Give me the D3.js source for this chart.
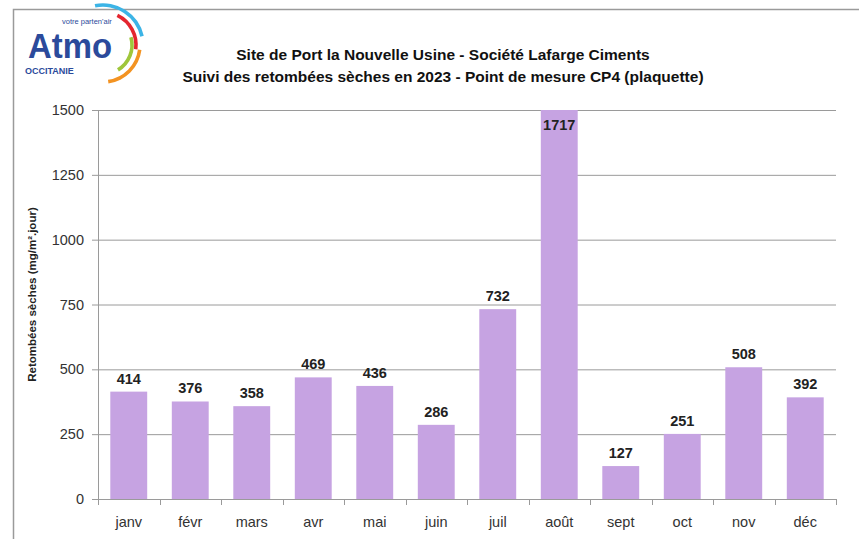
<!DOCTYPE html>
<html>
<head>
<meta charset="utf-8">
<script src="https://cdn.jsdelivr.net/npm/d3@7"></script>
<style>
  body { margin: 0; background: #fff; }
  svg { display: block; font-family: 'Liberation Sans', Arial, sans-serif; }
</style>
</head>
<body>
<svg id="chart" width="859" height="539"></svg>
<script>
// donnees
const months = ['janv', 'févr', 'mars', 'avr', 'mai', 'juin', 'juil', 'août', 'sept', 'oct', 'nov', 'déc'];
const values = [414, 376, 358, 469, 436, 286, 732, 1717, 127, 251, 508, 392];
const yTicks = [0, 250, 500, 750, 1000, 1250, 1500];
const titleLines = [
  'Site de Port la Nouvelle Usine - Société Lafarge Ciments',
  'Suivi des retombées sèches en 2023 - Point de mesure CP4 (plaquette)',
];

const svg = d3.select('#chart');
const margin = { top: 110, right: 23, bottom: 40, left: 98 };
const width = +svg.attr('width') - margin.left - margin.right;
const height = +svg.attr('height') - margin.top - margin.bottom;

// cadre
svg.append('rect')
  .attr('x', 13.5).attr('y', 9.5)
  .attr('width', 900).attr('height', 600)
  .attr('fill', 'none')
  .attr('stroke', '#9a9a9a')
  .attr('stroke-width', 1.5);

// logo
const logo = svg.append('g');
const arcs = [
  { r: 40, a0: -0.2, a1: 1.35, c: '#3cb4e6' },
  { r: 33, a0: 0.45, a1: 1.7, c: '#e4262f' },
  { r: 29, a0: 1.3, a1: 2.6, c: '#9fc63b' },
  { r: 37, a0: 1.7, a1: 3.0, c: '#f39322' },
];
arcs.forEach((d) => {
  logo.append('path')
    .attr('transform', 'translate(103,45)')
    .attr('d', d3.arc().innerRadius(d.r - 1.8).outerRadius(d.r + 1.8).startAngle(d.a0).endAngle(d.a1))
    .attr('fill', d.c);
});
logo.append('text')
  .attr('x', 28).attr('y', 58)
  .attr('font-size', 35).attr('font-weight', 'bold')
  .attr('fill', '#2b4a9b')
  .attr('textLength', 84)
  .attr('lengthAdjust', 'spacingAndGlyphs')
  .text('Atmo');
logo.append('text')
  .attr('x', 62).attr('y', 24)
  .attr('font-size', 7.5)
  .attr('fill', '#2b4a9b')
  .text('votre parten\'air');
logo.append('text')
  .attr('x', 25).attr('y', 74)
  .attr('font-size', 9).attr('font-weight', 'bold')
  .attr('fill', '#2b4a9b')
  .text('OCCITANIE');

// titre
svg.append('g')
  .selectAll('text')
  .data(titleLines)
  .enter().append('text')
  .attr('x', 443)
  .attr('y', (d, i) => 60 + i * 22)
  .attr('text-anchor', 'middle')
  .attr('font-size', 15.5)
  .attr('font-weight', 'bold')
  .attr('fill', '#111')
  .text(d => d);

const g = svg.append('g').attr('transform', `translate(${margin.left},${margin.top})`);

const x = d3.scaleBand()
  .domain(months)
  .range([0, width])
  .paddingInner(0.4)
  .paddingOuter(0.2);

const y = d3.scaleLinear()
  .domain([0, 1500])
  .range([height, 0]);

// grille
g.append('g')
  .selectAll('line')
  .data(yTicks.filter(d => d > 0))
  .enter().append('line')
  .attr('x1', 0).attr('x2', width)
  .attr('y1', d => y(d) + 0.5).attr('y2', d => y(d) + 0.5)
  .attr('stroke', '#9a9a9a');

// axe y
const yAxis = g.append('g')
  .call(d3.axisLeft(y).tickValues(yTicks).tickFormat(d3.format('d')).tickSize(6).tickPadding(8));
yAxis.select('.domain').attr('stroke', '#9a9a9a');
yAxis.selectAll('.tick line').attr('stroke', '#9a9a9a');
yAxis.selectAll('.tick text')
  .attr('font-size', 14.5)
  .attr('font-family', 'Liberation Sans, Arial, sans-serif')
  .attr('fill', '#333');

// barres
g.selectAll('.bar')
  .data(values)
  .enter().append('rect')
  .attr('class', 'bar')
  .attr('x', (d, i) => x(months[i]))
  .attr('width', x.bandwidth())
  .attr('y', d => y(Math.min(d, 1500)))
  .attr('height', d => height - y(Math.min(d, 1500)))
  .attr('fill', '#c6a3e2');

// etiquettes
g.selectAll('.lbl')
  .data(values)
  .enter().append('text')
  .attr('class', 'lbl')
  .attr('x', (d, i) => x(months[i]) + (x.bandwidth() / 2))
  .attr('y', d => (d > 1500 ? y(1500) + 20 : y(d) - 8))
  .attr('text-anchor', 'middle')
  .attr('font-size', 14.5)
  .attr('font-weight', 'bold')
  .attr('fill', '#222')
  .text(d => d);

// axe x
const step = x.step();
const xAxis = g.append('g').attr('transform', `translate(0,${height})`);
xAxis.append('line')
  .attr('x1', 0).attr('x2', width)
  .attr('y1', 0.5).attr('y2', 0.5)
  .attr('stroke', '#9a9a9a');
xAxis.selectAll('.xt')
  .data(d3.range(months.length + 1))
  .enter().append('line')
  .attr('class', 'xt')
  .attr('x1', d => Math.round(d * step) + 0.5).attr('x2', d => Math.round(d * step) + 0.5)
  .attr('y1', 0).attr('y2', 6)
  .attr('stroke', '#9a9a9a');
xAxis.selectAll('.xl')
  .data(months)
  .enter().append('text')
  .attr('class', 'xl')
  .attr('x', d => x(d) + (x.bandwidth() / 2))
  .attr('y', 28)
  .attr('text-anchor', 'middle')
  .attr('font-size', 14.5)
  .attr('fill', '#333')
  .text(d => d);

// titre axe y
svg.append('text')
  .attr('transform', `translate(36,${margin.top + (height / 2) - 10}) rotate(-90)`)
  .attr('text-anchor', 'middle')
  .attr('font-size', 11.5)
  .attr('font-weight', 'bold')
  .attr('fill', '#222')
  .text('Retombées sèches (mg/m².jour)');
</script>
</body>
</html>
